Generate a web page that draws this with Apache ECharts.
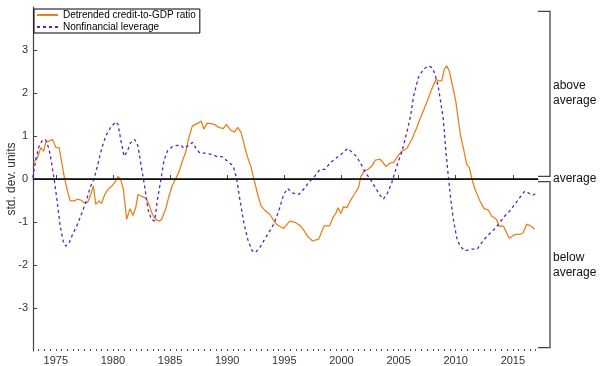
<!DOCTYPE html>
<html>
<head>
<meta charset="utf-8">
<script src="https://cdn.jsdelivr.net/npm/echarts@6/dist/echarts.min.js"></script>
<style>
  html, body { margin: 0; padding: 0; background: #fff; }
  #chart { width: 600px; height: 366px; }
</style>
</head>
<body>
<div id="chart"></div>
<script>
// Detrended credit-to-GDP ratio (std. dev. units), by fractional year
const creditYears = [
  1973.05, 1973.40, 1973.69, 1973.93, 1974.13, 1974.41, 1974.71, 1975.00, 1975.29, 1975.72,
  1976.02, 1976.25, 1976.60, 1976.90, 1977.18, 1977.47, 1977.77, 1978.06, 1978.29, 1978.49,
  1978.78, 1978.99, 1979.28, 1979.57, 1979.95, 1980.24, 1980.44, 1980.68, 1980.91, 1981.20,
  1981.49, 1981.75, 1981.99, 1982.19, 1982.57, 1982.86, 1983.15, 1983.45, 1983.73, 1984.02,
  1984.23, 1984.61, 1984.90, 1985.19, 1985.48, 1985.77, 1986.07, 1986.35, 1986.64, 1986.94,
  1987.23, 1987.52, 1987.72, 1987.95, 1988.25, 1988.54, 1988.89, 1989.26, 1989.65, 1989.93,
  1990.28, 1990.63, 1990.92, 1991.22, 1991.51, 1991.79, 1992.09, 1992.38, 1992.67, 1992.97,
  1993.34, 1993.72, 1994.01, 1994.30, 1994.65, 1994.94, 1995.46, 1995.96, 1996.40, 1996.69,
  1997.03, 1997.47, 1998.00, 1998.49, 1998.96, 1999.25, 1999.54, 1999.69, 1999.95, 2000.18,
  2000.48, 2000.76, 2001.11, 2001.49, 2001.70, 2001.99, 2002.36, 2002.66, 2002.95, 2003.38,
  2003.91, 2004.26, 2004.55, 2004.90, 2005.28, 2005.72, 2006.15, 2006.59, 2006.88, 2007.46,
  2007.90, 2008.28, 2008.48, 2008.77, 2009.00, 2009.21, 2009.44, 2009.73, 2010.02, 2010.22,
  2010.43, 2010.66, 2010.96, 2011.18, 2011.39, 2011.68, 2012.12, 2012.47, 2012.84, 2013.14,
  2013.58, 2013.80, 2014.01, 2014.21, 2014.45, 2014.68, 2015.17, 2015.61, 2015.90, 2016.20,
  2016.55, 2016.92
];
const creditValues = [
  0.38, 0.50, 0.73, 0.65, 0.86, 0.88, 0.92, 0.73, 0.73, 0.07,
  -0.28, -0.51, -0.51, -0.47, -0.49, -0.55, -0.55, -0.36, -0.16, -0.59,
  -0.51, -0.57, -0.36, -0.24, -0.15, -0.05, 0.06, -0.02, -0.24, -0.94,
  -0.69, -0.85, -0.67, -0.36, -0.41, -0.44, -0.59, -0.82, -0.94, -0.98,
  -0.95, -0.70, -0.40, -0.15, 0.00, 0.16, 0.42, 0.61, 0.96, 1.23,
  1.27, 1.31, 1.35, 1.16, 1.30, 1.29, 1.27, 1.20, 1.17, 1.27,
  1.14, 1.09, 1.20, 1.08, 0.77, 0.50, 0.27, -0.05, -0.36, -0.63,
  -0.74, -0.82, -0.94, -1.05, -1.11, -1.15, -0.98, -1.01, -1.09, -1.19,
  -1.33, -1.44, -1.40, -1.09, -1.09, -0.90, -0.78, -0.67, -0.80, -0.64,
  -0.67, -0.51, -0.36, -0.20, 0.06, 0.19, 0.23, 0.30, 0.44, 0.46,
  0.29, 0.37, 0.38, 0.52, 0.65, 0.71, 0.92, 1.20, 1.40, 1.78,
  2.09, 2.32, 2.28, 2.28, 2.55, 2.63, 2.51, 2.16, 1.78, 1.39,
  1.00, 0.73, 0.34, 0.27, 0.03, -0.24, -0.51, -0.69, -0.72, -0.86,
  -0.94, -1.11, -1.09, -1.11, -1.25, -1.38, -1.29, -1.29, -1.25, -1.05,
  -1.09, -1.17
];

// Nonfinancial leverage (std. dev. units), by fractional year
const leverageYears = [
  1972.97, 1973.25, 1973.54, 1973.84, 1974.13, 1974.41, 1974.62, 1974.85, 1975.09, 1975.38,
  1975.67, 1975.87, 1976.16, 1976.46, 1976.83, 1977.18, 1977.62, 1978.00, 1978.34, 1978.64,
  1978.99, 1979.37, 1979.80, 1980.24, 1980.44, 1980.68, 1980.97, 1981.26, 1981.55, 1981.90,
  1982.19, 1982.42, 1982.77, 1983.06, 1983.36, 1983.65, 1983.88, 1984.17, 1984.46, 1984.76,
  1985.19, 1985.63, 1985.98, 1986.21, 1986.56, 1986.94, 1987.23, 1987.60, 1988.10, 1988.69,
  1989.12, 1989.56, 1990.00, 1990.52, 1990.81, 1991.10, 1991.45, 1991.79, 1992.18, 1992.47,
  1992.84, 1993.19, 1993.63, 1994.07, 1994.50, 1994.94, 1995.29, 1995.67, 1996.25, 1996.69,
  1997.12, 1997.56, 1998.08, 1998.58, 1999.02, 1999.60, 2000.13, 2000.53, 2000.91, 2001.29,
  2001.64, 2002.07, 2002.51, 2002.95, 2003.38, 2003.67, 2004.02, 2004.41, 2004.84, 2005.28,
  2005.72, 2006.07, 2006.29, 2006.73, 2007.17, 2007.60, 2007.95, 2008.19, 2008.48, 2008.69,
  2008.91, 2009.15, 2009.35, 2009.56, 2009.79, 2010.08, 2010.37, 2010.81, 2011.39, 2011.88,
  2012.27, 2012.64, 2013.05, 2013.52, 2013.86, 2014.30, 2014.74, 2015.17, 2015.61, 2016.05,
  2016.34, 2016.72, 2017.12
];
const leverageValues = [
  0.03, 0.46, 0.77, 0.91, 0.91, 0.69, 0.38, 0.00, -0.47, -1.09,
  -1.48, -1.56, -1.48, -1.29, -1.09, -0.86, -0.55, -0.20, 0.00, 0.30,
  0.69, 1.00, 1.20, 1.33, 1.27, 0.92, 0.53, 0.65, 0.85, 0.92,
  0.77, 0.38, -0.16, -0.70, -0.94, -0.98, -0.50, -0.05, 0.42, 0.65,
  0.75, 0.78, 0.78, 0.71, 0.77, 0.85, 0.73, 0.60, 0.60, 0.57,
  0.52, 0.52, 0.42, 0.30, 0.03, -0.47, -1.01, -1.40, -1.67, -1.71,
  -1.60, -1.44, -1.25, -1.05, -0.75, -0.36, -0.22, -0.32, -0.36, -0.24,
  -0.08, 0.03, 0.21, 0.23, 0.38, 0.50, 0.61, 0.71, 0.63, 0.53,
  0.38, 0.16, 0.00, -0.20, -0.38, -0.47, -0.33, -0.08, 0.30, 0.63,
  1.08, 1.50, 1.90, 2.36, 2.55, 2.63, 2.59, 2.43, 2.13, 1.78,
  1.39, 0.61, 0.07, -0.47, -0.94, -1.36, -1.56, -1.67, -1.63, -1.63,
  -1.48, -1.36, -1.25, -1.13, -1.01, -0.86, -0.74, -0.59, -0.43, -0.28,
  -0.32, -0.38, -0.32
];

// Axis ticks
const yearLabels = [1975, 1980, 1985, 1990, 1995, 2000, 2005, 2010, 2015];
const halfYearTicks = [];
for (let y = 1973; y <= 2017; y += 0.5) halfYearTicks.push(y);
const yTicks = [-3, -2, -1, 0, 1, 2, 3];

// Right-hand range bracket and its captions (in std. dev. units)
const bracketTop = 3.9, averageHigh = 0.06, averageLow = -0.06, bracketBottom = -3.92;
const rangeLabels = [
  { text: 'above\naverage', value: 2.0 },
  { text: 'average', value: 0.0 },
  { text: 'below\naverage', value: -2.0 }
];

const seriesNames = ['Detrended credit-to-GDP ratio', 'Nonfinancial leverage'];
const orange = '#e8821e';
const purple = '#5326c2';
const axisColor = '#444';
const fontFamily = '"Liberation Sans", Arial, Helvetica, sans-serif';

const zip = (xs, ys) => xs.map((x, i) => [x, ys[i]]);

const chart = echarts.init(document.getElementById('chart'), null, { renderer: 'canvas' });

const xMin = 1973.0, xMax = 2017.2;

chart.setOption({
  animation: false,
  backgroundColor: '#fff',
  textStyle: { fontFamily },
  grid: { left: 33, right: 62, top: 7, bottom: 15, containLabel: false, outerBoundsMode: 'none' },
  legend: {
    orient: 'vertical',
    left: 34,
    top: 9,
    padding: [1, 4, 1, 2],
    itemGap: 2,
    itemWidth: 21,
    itemHeight: 10,
    borderColor: '#000',
    borderWidth: 1,
    backgroundColor: '#fff',
    itemStyle: { opacity: 0 },
    textStyle: { fontSize: 10, color: '#000', fontFamily },
    data: seriesNames
  },
  xAxis: [
    {
      type: 'value', min: xMin, max: xMax,
      axisLine: { show: true, lineStyle: { color: axisColor, width: 1.2 } },
      axisTick: { show: true, inside: true, length: 4, customValues: yearLabels, lineStyle: { color: axisColor } },
      axisLabel: { customValues: yearLabels, formatter: v => String(v), fontSize: 11, color: '#333', margin: 4, fontFamily },
      splitLine: { show: false }
    },
    {
      type: 'value', min: xMin, max: xMax, position: 'bottom',
      axisLine: { show: false },
      axisTick: { show: true, inside: true, length: 2, customValues: halfYearTicks, lineStyle: { color: axisColor } },
      axisLabel: { show: false },
      splitLine: { show: false }
    }
  ],
  yAxis: {
    type: 'value', min: -4, max: 4, interval: 1,
    name: 'std. dev. units', nameLocation: 'middle', nameGap: 15, nameMoveOverlap: false,
    nameTextStyle: { fontSize: 12, color: '#333', fontFamily },
    axisLine: { show: true, lineStyle: { color: axisColor, width: 1.2 } },
    axisTick: { show: true, inside: true, length: 4, customValues: yTicks, lineStyle: { color: axisColor } },
    axisLabel: { customValues: yTicks, fontSize: 11, color: '#333', margin: 5, fontFamily },
    splitLine: { show: false }
  },
  series: [
    {
      name: seriesNames[0], type: 'line', xAxisIndex: 0,
      data: zip(creditYears, creditValues),
      symbol: 'none', smooth: false,
      lineStyle: { color: orange, width: 1.3 },
      itemStyle: { color: orange },
      z: 3,
      markLine: {
        silent: true, symbol: 'none', label: { show: false },
        lineStyle: { color: '#000', width: 1.5, type: 'solid' },
        data: [{ yAxis: 0 }]
      }
    },
    {
      name: seriesNames[1], type: 'line', xAxisIndex: 0,
      data: zip(leverageYears, leverageValues),
      symbol: 'none', smooth: false,
      lineStyle: { color: purple, width: 1.3, type: [3, 3] },
      itemStyle: { color: purple },
      z: 4
    }
  ]
});

// Range bracket on the right, positioned from the y-axis scale
function drawBracket() {
  const py = v => chart.convertToPixel({ yAxisIndex: 0 }, v);
  const xl = chart.convertToPixel({ xAxisIndex: 0 }, xMax);
  const xr = xl + 12;
  const lineStyle = { stroke: axisColor, lineWidth: 1.3, fill: null };
  const elements = [
    { type: 'polyline', shape: { points: [[xl, py(bracketTop)], [xr, py(bracketTop)], [xr, py(averageHigh)], [xl, py(averageHigh)]] }, style: lineStyle },
    { type: 'polyline', shape: { points: [[xl, py(averageLow)], [xr, py(averageLow)], [xr, py(bracketBottom)], [xl, py(bracketBottom)]] }, style: lineStyle }
  ];
  rangeLabels.forEach(l => {
    elements.push({
      type: 'text', x: xr + 3, y: py(l.value),
      style: { text: l.text, fill: '#111', font: '12px ' + fontFamily, verticalAlign: 'middle', align: 'left', lineHeight: 15 }
    });
  });
  chart.setOption({ graphic: elements });
}
drawBracket();
</script>
</body>
</html>
